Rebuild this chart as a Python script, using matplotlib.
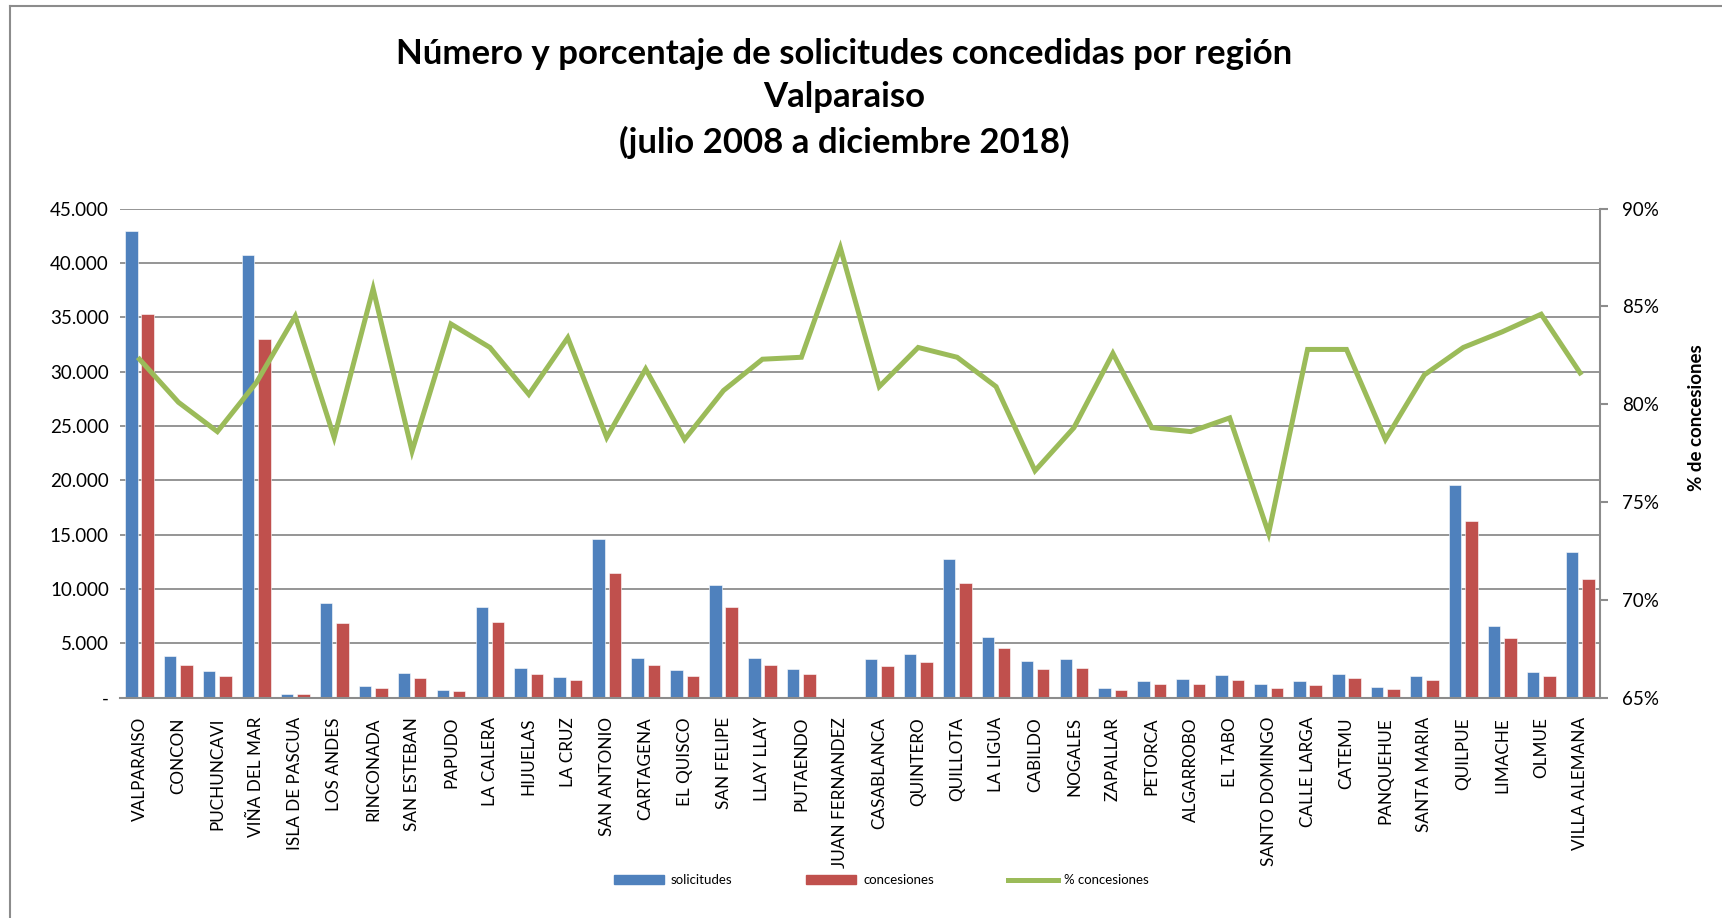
import matplotlib.pyplot as plt
import matplotlib.ticker as mticker
from matplotlib.lines import Line2D
from matplotlib.patches import Patch
import numpy as np

plt.rcParams['font.family'] = ['Lato', 'DejaVu Sans']

regiones = ["VALPARAISO", "CONCON", "PUCHUNCAVI", "VIÑA DEL MAR", "ISLA DE PASCUA",
            "LOS ANDES", "RINCONADA", "SAN ESTEBAN", "PAPUDO", "LA CALERA", "HIJUELAS",
            "LA CRUZ", "SAN ANTONIO", "CARTAGENA", "EL QUISCO", "SAN FELIPE", "LLAY LLAY",
            "PUTAENDO", "JUAN FERNANDEZ", "CASABLANCA", "QUINTERO", "QUILLOTA", "LA LIGUA",
            "CABILDO", "NOGALES", "ZAPALLAR", "PETORCA", "ALGARROBO", "EL TABO",
            "SANTO DOMINGO", "CALLE LARGA", "CATEMU", "PANQUEHUE", "SANTA MARIA",
            "QUILPUE", "LIMACHE", "OLMUE", "VILLA ALEMANA"]
solicitudes = [42900, 3800, 2500, 40700, 380, 8730, 1050, 2290, 730, 8350, 2700,
               1900, 14630, 3640, 2530, 10330, 3640, 2630, 0, 3550, 3990, 12740, 5610,
               3360, 3520, 890, 1580, 1720, 2060, 1240, 1490, 2190, 980, 2000,
               19610, 6600, 2350, 13390]
concesiones = [35300, 3050, 2000, 33000, 320, 6830, 890, 1810, 600, 6950, 2190,
               1590, 11440, 2980, 2000, 8330, 3000, 2190, 0, 2880, 3260, 10550, 4530,
               2630, 2760, 700, 1240, 1300, 1620, 890, 1210, 1810, 760, 1620,
               16280, 5520, 2000, 10890]
pct_concesiones = [82.3, 80.1, 78.6, 81.1, 84.5, 78.3, 85.9, 77.6, 84.1, 82.9, 80.5,
                   83.4, 78.3, 81.8, 78.2, 80.7, 82.3, 82.4, 88.0, 80.9, 82.9, 82.4, 80.9,
                   76.6, 78.8, 82.6, 78.8, 78.6, 79.3, 73.4, 82.8, 82.8, 78.2, 81.5,
                   82.9, 83.7, 84.6, 81.6]

BLUE = '#4F81BD'
RED = '#C0504D'
GREEN = '#9BBB59'
GRID = '#8c8c8c'

fig = plt.figure(figsize=(17.22, 9.18), dpi=100)
ax = fig.add_axes([0.0697, 0.24, 0.8592, 0.5328])

x = np.arange(len(regiones))
w = 0.32
ax.bar(x - 0.21, solicitudes, w, color=BLUE, edgecolor='white', linewidth=0.4, zorder=2)
ax.bar(x + 0.21, concesiones, w, color=RED, edgecolor='white', linewidth=0.4, zorder=2)

ax.set_xlim(-0.5, len(regiones) - 0.5)
ax.set_ylim(0, 45000)
ax.set_yticks(np.arange(0, 45001, 5000))
ax.yaxis.set_major_formatter(mticker.FuncFormatter(
    lambda v, p: '-' if v == 0 else f'{int(v):,}'.replace(',', '.')))
ax.grid(axis='y', color=GRID, linewidth=1.3, zorder=0)
ax.set_axisbelow(True)
for s in ['top', 'left', 'right']:
    ax.spines[s].set_visible(False)
ax.spines['bottom'].set_color(GRID)
ax.spines['bottom'].set_linewidth(1.5)
ax.tick_params(axis='y', length=0, labelsize=13.5, pad=8)
ax.set_xticks(x)
ax.set_xticklabels(regiones, rotation=90, fontsize=12.3)
ax.tick_params(axis='x', length=0, pad=14)

ax2 = ax.twinx()
ax2.plot(x, pct_concesiones, color=GREEN, linewidth=3.6, solid_joinstyle='miter', zorder=3)
ax2.set_ylim(65, 90)
ax2.set_yticks(np.arange(65, 91, 5))
ax2.yaxis.set_major_formatter(mticker.FuncFormatter(lambda v, p: f'{int(v)}%'))
for s in ['top', 'left', 'bottom']:
    ax2.spines[s].set_visible(False)
ax2.spines['right'].set_color(GRID)
ax2.spines['right'].set_linewidth(1.5)
ax2.tick_params(axis='y', direction='out', length=6, width=1.5, color=GRID,
                labelsize=13.5, pad=10)
fig.text(1545 / 1568, 1 - 380 / 836, '% de concesiones', rotation=90,
         ha='center', va='center', fontsize=13.5, fontweight='bold')

fig.text(0.49, 0.893,
         'Número y porcentaje de solicitudes concedidas por región\nValparaiso\n(julio 2008 a diciembre 2018)',
         ha='center', va='center', fontsize=25, fontweight='bold', linespacing=1.45)

handles = [Patch(color=BLUE), Patch(color=RED), Line2D([], [], color=GREEN, linewidth=3.6)]
fig.legend(handles, ['solicitudes', 'concesiones', '% concesiones'],
           loc='center', bbox_to_anchor=(0.512, 0.041), ncol=3, frameon=False,
           fontsize=9.5, handlelength=3.8, handleheight=0.7, handletextpad=0.5,
           columnspacing=5.6)

# chart border (left and top edges)
fig.add_artist(Line2D([10 / 1722, 10 / 1722], [0, 1 - 6 / 918], color=GRID, linewidth=1.5))
fig.add_artist(Line2D([10 / 1722, 1], [1 - 6 / 918, 1 - 6 / 918], color=GRID, linewidth=1.5))

fig.savefig('out.png', dpi=100)
